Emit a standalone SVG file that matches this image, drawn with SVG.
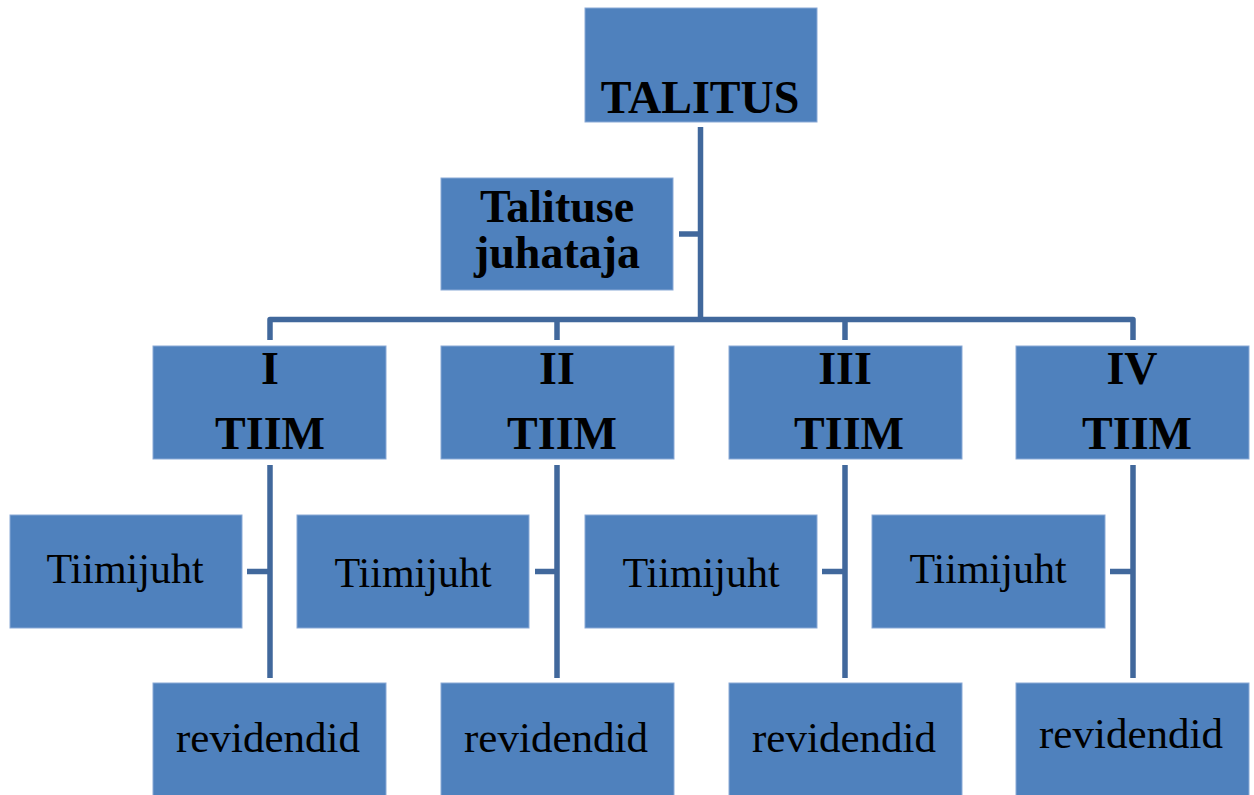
<svg xmlns="http://www.w3.org/2000/svg" width="1254" height="795" viewBox="0 0 1254 795">
<style>
.box{fill:#4F81BD;stroke:#8AA9D6;stroke-width:1}
.con{fill:none;stroke:#41689C;stroke-width:5.5;stroke-linejoin:round}
.b{font-family:"Liberation Serif","Times New Roman",serif;font-weight:bold;font-size:46px;fill:#000;text-anchor:middle}
.r{font-family:"Liberation Serif","Times New Roman",serif;font-size:42px;fill:#000;text-anchor:middle}
.rv{font-size:43px}
</style>
<rect width="1254" height="795" fill="#fff"/>
<g id="connectors">
<path class="con" d="M700.5 127V319.5"/>
<path class="con" d="M679 234H700.5"/>
<path class="con" d="M270 340V319.5H1133V340"/>
<path class="con" d="M557 319.5V340"/>
<path class="con" d="M845 319.5V340"/>
<path class="con" d="M270 465V678M247 571.5H270"/>
<path class="con" d="M557 465V678M535 571.5H557"/>
<path class="con" d="M845 465V678M822 571.5H845"/>
<path class="con" d="M1133 465V678M1110 571.5H1133"/>
</g>
<g id="talitus"><rect class="box" x="585" y="8" width="232" height="114"/><text class="b" x="700" y="113">TALITUS</text></g>
<g id="juhataja"><rect class="box" x="441" y="178" width="232" height="112"/><text class="b" x="557" y="222">Talituse</text><text class="b" x="557" y="268">juhataja</text></g>
<g id="tiim1"><rect class="box" x="153" y="346" width="233" height="113"/><text class="b" x="270" y="384">I</text><text class="b" x="270" y="449">TIIM</text></g>
<g id="tiim2"><rect class="box" x="441" y="346" width="233" height="113"/><text class="b" x="557" y="384">II</text><text class="b" x="562" y="449">TIIM</text></g>
<g id="tiim3"><rect class="box" x="729" y="346" width="233" height="113"/><text class="b" x="845" y="384">III</text><text class="b" x="849" y="449">TIIM</text></g>
<g id="tiim4"><rect class="box" x="1016" y="346" width="233" height="113"/><text class="b" x="1132" y="384">IV</text><text class="b" x="1137" y="449">TIIM</text></g>
<g id="juht1"><rect class="box" x="10" y="515" width="232" height="113"/><text class="r" x="125" y="583">Tiimijuht</text></g>
<g id="juht2"><rect class="box" x="297" y="515" width="232" height="113"/><text class="r" x="413" y="587">Tiimijuht</text></g>
<g id="juht3"><rect class="box" x="585" y="515" width="232" height="113"/><text class="r" x="701" y="587">Tiimijuht</text></g>
<g id="juht4"><rect class="box" x="872" y="515" width="233" height="113"/><text class="r" x="988" y="583">Tiimijuht</text></g>
<g id="rev1"><rect class="box" x="153" y="683" width="233" height="115"/><text class="r rv" x="268" y="752">revidendid</text></g>
<g id="rev2"><rect class="box" x="441" y="683" width="233" height="115"/><text class="r rv" x="556" y="752">revidendid</text></g>
<g id="rev3"><rect class="box" x="729" y="683" width="233" height="115"/><text class="r rv" x="844" y="752">revidendid</text></g>
<g id="rev4"><rect class="box" x="1016" y="683" width="233" height="115"/><text class="r rv" x="1131" y="748">revidendid</text></g>
</svg>
